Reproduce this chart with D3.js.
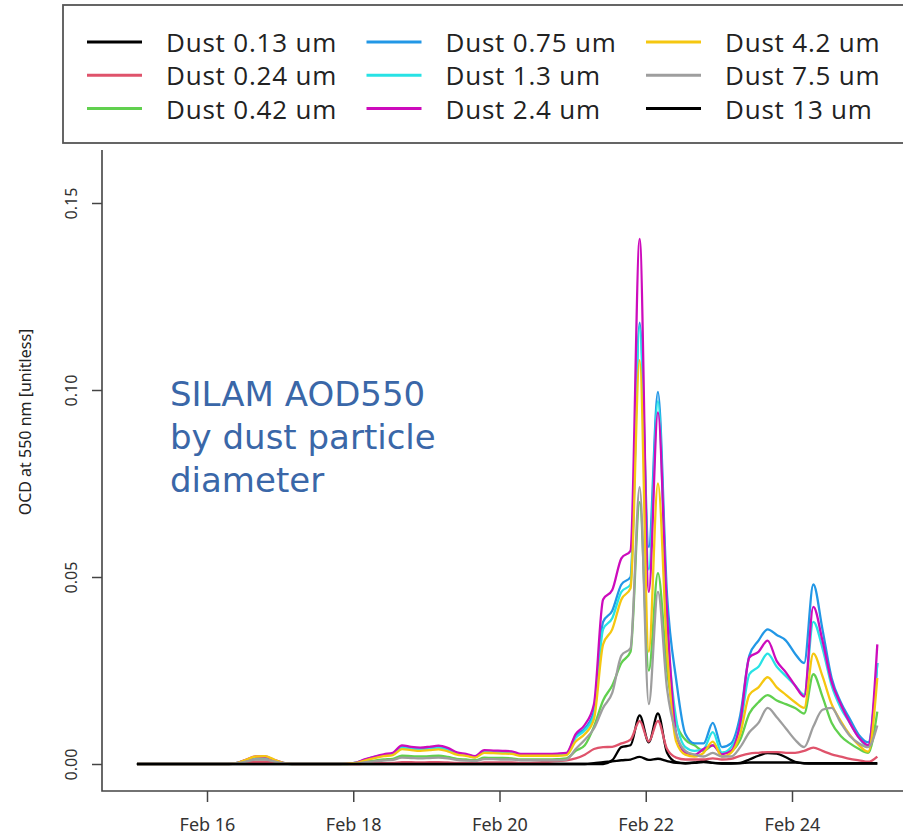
<!DOCTYPE html>
<html>
<head>
<meta charset="utf-8">
<script src="https://cdn.jsdelivr.net/npm/d3@7"></script>
<style>
  body { margin: 0; background: #fff; }
  svg { display: block; }
</style>
</head>
<body>
<div id="viz"></div>
<script>
// model output every 3 hours, first step Feb 15 01:00
const startTime = new Date(Date.UTC(2021, 1, 15, 1));
const stepHours = 3;

const dust013 = [0,0,0,0,0,0,0,0,0,0, 0,0,0,0,0,0,0,0,0,0, 0,0,0,0,0,0,0,0,0,0,
  0,0,0,0,0,0,0,0,0,0, 0,0,0,0,0,0,0,0,0,0,
  0,0,0.001,0.0045,0.005,0.013,0.0058,0.0135,0.003,0.0005,
  0.0002,0.0004,0.0008,0.0003,0.0001,0.0001,0.0003,0.0012,0.0022,0.0029,
  0.0028,0.0018,0.0006,0.0002,0.0001,0.0001,0.0001,0.0001,0.0001,0.0001,
  0.0001,0.0001];
const dust024 = [0,0,0,0,0,0,0,0,0,0,
  0,0.0001,0.0004,0.0006,0.0006,0.0004,0.0001,0,0,0,
  0,0,0,0,0,0.0001,0.0002,0.0002,0.0003,0.0005,
  0.0005,0.0004,0.0005,0.0005,0.0004,0.0003,0.0003,0.0002,0.0004,0.0004,
  0.0004,0.0004,0.0003,0.0003,0.0004,0.0006,0.0008,0.001,0.0015,0.0025,
  0.004,0.0045,0.0046,0.0055,0.0065,0.0115,0.006,0.0115,0.004,0.0017,
  0.0012,0.0012,0.0012,0.0015,0.0012,0.0014,0.0022,0.0028,0.003,0.0032,
  0.0032,0.003,0.003,0.0035,0.0044,0.0035,0.0026,0.002,0.0014,0.001,
  0.0006,0.002];
const dust042 = [0,0,0,0,0,0,0,0,0,0,
  0,0.0002,0.0008,0.0013,0.0013,0.0008,0.0002,0,0,0,
  0,0,0,0,0.0002,0.0006,0.0009,0.0012,0.0014,0.0022,
  0.0021,0.002,0.0021,0.0022,0.0019,0.0014,0.0012,0.001,0.0017,0.0016,
  0.0016,0.0015,0.0012,0.0012,0.0012,0.0012,0.0013,0.0015,0.0035,0.005,
  0.01,0.017,0.021,0.027,0.03,0.07,0.025,0.051,0.025,0.011,
  0.0065,0.005,0.0035,0.005,0.003,0.0035,0.0065,0.0135,0.0165,0.0184,
  0.017,0.016,0.015,0.0135,0.024,0.018,0.011,0.0075,0.0055,0.004,
  0.003,0.014];
const dust075 = [0,0,0,0,0,0,0,0,0,0,
  0,0.0003,0.0011,0.0018,0.0019,0.001,0.0003,0,0,0,
  0,0,0,0.0001,0.0004,0.0012,0.0019,0.0024,0.0028,0.0047,
  0.0043,0.0041,0.0043,0.0046,0.004,0.0029,0.0025,0.002,0.0034,0.0034,
  0.0033,0.0032,0.0025,0.0025,0.0025,0.0025,0.0026,0.0028,0.0075,0.0095,
  0.014,0.038,0.041,0.048,0.05,0.118,0.058,0.0995,0.045,0.0225,
  0.008,0.0055,0.0055,0.011,0.0045,0.0055,0.013,0.029,0.033,0.036,
  0.0345,0.033,0.0295,0.027,0.048,0.036,0.023,0.0165,0.012,0.0077,
  0.0058,0.027];
const dust13 = [0,0,0,0,0,0,0,0,0,0,
  0,0.0003,0.001,0.0017,0.0018,0.001,0.0002,0,0,0,
  0,0,0,0.0001,0.0003,0.0011,0.0018,0.0023,0.0026,0.0044,
  0.004,0.0039,0.004,0.0043,0.0038,0.0027,0.0024,0.0018,0.0033,0.0032,
  0.0031,0.003,0.0024,0.0024,0.0024,0.0024,0.0025,0.0026,0.007,0.009,
  0.013,0.036,0.039,0.046,0.048,0.117,0.052,0.097,0.038,0.012,
  0.0045,0.0035,0.004,0.0085,0.003,0.0045,0.01,0.024,0.026,0.0295,
  0.026,0.0235,0.021,0.0185,0.038,0.031,0.021,0.015,0.011,0.007,
  0.0047,0.027];
const dust24 = [0,0,0,0,0,0,0,0,0,0,
  0,0.0003,0.0012,0.002,0.002,0.0011,0.0003,0,0,0,
  0,0,0,0.0001,0.0004,0.0013,0.002,0.0026,0.003,0.005,
  0.0046,0.0044,0.0046,0.0049,0.0043,0.0031,0.0027,0.0021,0.0037,0.0036,
  0.0035,0.0034,0.0027,0.0027,0.0027,0.0027,0.0028,0.003,0.008,0.0105,
  0.016,0.044,0.0465,0.055,0.057,0.1404,0.046,0.094,0.04,0.008,
  0.003,0.0024,0.004,0.005,0.0026,0.0035,0.011,0.0285,0.03,0.033,
  0.0275,0.0245,0.021,0.018,0.042,0.033,0.022,0.016,0.011,0.007,
  0.005,0.032];
const dust42 = [0,0,0,0,0,0,0,0,0,0,
  0,0.0003,0.0012,0.002,0.0021,0.0012,0.0003,0,0,0,
  0,0,0,0.0001,0.0003,0.001,0.0016,0.0021,0.0024,0.004,
  0.0037,0.0035,0.0037,0.0039,0.0034,0.0025,0.0022,0.0017,0.003,0.0029,
  0.0028,0.0027,0.0022,0.0022,0.0022,0.0022,0.0022,0.0024,0.006,0.008,
  0.012,0.032,0.036,0.044,0.047,0.108,0.03,0.075,0.03,0.006,
  0.0025,0.002,0.003,0.006,0.002,0.003,0.008,0.0185,0.0205,0.0232,
  0.0205,0.0185,0.0165,0.015,0.0295,0.0235,0.016,0.0115,0.0078,0.005,
  0.0033,0.023];
const dust75 = [0,0,0,0,0,0,0,0,0,0,
  0,0.0002,0.0007,0.0012,0.0012,0.0007,0.0002,0,0,0,
  0,0,0,0,0.0001,0.0005,0.0007,0.0009,0.0011,0.0017,
  0.0016,0.0015,0.0016,0.0017,0.0015,0.0011,0.0009,0.0008,0.0013,0.0013,
  0.0012,0.0012,0.001,0.001,0.001,0.001,0.001,0.0012,0.004,0.0065,
  0.0095,0.015,0.019,0.029,0.031,0.074,0.016,0.046,0.02,0.008,
  0.0035,0.0025,0.002,0.003,0.002,0.002,0.0045,0.0085,0.011,0.015,
  0.0125,0.0095,0.0065,0.0045,0.01,0.0145,0.015,0.011,0.0075,0.0055,
  0.0045,0.0103];
const dust130 = [0,0,0,0,0,0,0,0,0,0, 0,0,0,0,0,0,0,0,0,0, 0,0,0,0,0,0,0,0,0,0,
  0,0,0,0,0,0,0,0,0,0, 0,0,0,0,0,0,0,0,0,0,
  0.0002,0.0005,0.0007,0.001,0.0012,0.0019,0.0011,0.0014,0.0008,0.0003,
  0.0002,0.0003,0.0005,0.0003,0.0002,0.0002,0.0002,0.0004,0.0004,0.0004,
  0.0004,0.0004,0.0004,0.0002,0.0002,0.0002,0.0002,0.0002,0.0002,0.0002,
  0.0002,0.0002];

const sizeLabels = ['Dust 0.13 um', 'Dust 0.24 um', 'Dust 0.42 um', 'Dust 0.75 um', 'Dust 1.3 um',
                    'Dust 2.4 um', 'Dust 4.2 um', 'Dust 7.5 um', 'Dust 13 um'];
const sizeColors = ['#000000', '#df536b', '#61d04f', '#2297e6', '#28e2e5',
                    '#cd0bbc', '#f5c710', '#9e9e9e', '#000000'];
const seriesValues = [dust013, dust024, dust042, dust075, dust13, dust24, dust42, dust75, dust130];

const yTickValues = [0, 0.05, 0.10, 0.15];
const xTickDays = ['2021-02-16', '2021-02-18', '2021-02-20', '2021-02-22', '2021-02-24'];
const annotationLines = ['SILAM AOD550', 'by dust particle', 'diameter'];

const canvasWidth = 903;
const canvasHeight = 835;
const frame = { left: 102, right: 903, top: 150, bottom: 791 };

const times = d3.range(dust24.length).map((i) => d3.utcHour.offset(startTime, i * stepHours));
const xTickDates = xTickDays.map((s) => new Date(s + 'T00:00:00Z'));

const xScale = d3.scaleUtc()
                 .domain([xTickDates[0], xTickDates[xTickDates.length - 1]])
                 .range([207, 792]);

const yScale = d3.scaleLinear()
                 .domain([0, 0.15])
                 .range([764, 203]);

const chart = d3.select('#viz')
                .append('svg')
                .attr('width', canvasWidth)
                .attr('height', canvasHeight)
                .style('font-family', '"Noto Sans", "Open Sans", sans-serif');

// lines, drawn in legend order so the last one sits on top
const line = d3.line()
               .x((d, i) => xScale(times[i]))
               .y((d) => yScale(d))
               .curve(d3.curveMonotoneX);

chart.append('g')
     .selectAll('path')
     .data(seriesValues)
     .enter().append('path')
       .attr('d', (d) => line(d))
       .attr('fill', 'none')
       .attr('stroke', (d, i) => sizeColors[i])
       .attr('stroke-width', 2.3)
       .attr('stroke-linejoin', 'round');

// L-shaped frame
chart.append('path')
     .attr('d', `M${frame.left},${frame.top}V${frame.bottom}H${frame.right}`)
     .attr('fill', 'none')
     .attr('stroke', '#444')
     .attr('stroke-width', 1.6);

const yAxis = chart.append('g')
                   .attr('transform', `translate(${frame.left}, 0)`)
                   .call(d3.axisLeft(yScale)
                           .tickValues(yTickValues)
                           .tickFormat(d3.format('.2f'))
                           .tickSize(10));
yAxis.select('.domain').remove();
yAxis.selectAll('line').attr('stroke', '#444').attr('stroke-width', 1.5);
yAxis.selectAll('text')
     .attr('x', null).attr('dy', null)
     .attr('transform', 'translate(-25,0) rotate(-90)')
     .attr('text-anchor', 'middle')
     .attr('fill', '#333')
     .style('font-size', '16px')
     .style('font-family', '"Noto Sans", sans-serif');

const xAxis = chart.append('g')
                   .attr('transform', `translate(0, ${frame.bottom})`)
                   .call(d3.axisBottom(xScale)
                           .tickValues(xTickDates)
                           .tickFormat(d3.utcFormat('%b %d'))
                           .tickSize(11));
xAxis.select('.domain').remove();
xAxis.selectAll('line').attr('stroke', '#444').attr('stroke-width', 1.5);
xAxis.selectAll('text')
     .attr('y', 40).attr('dy', null)
     .attr('fill', '#333')
     .style('font-size', '18px')
     .style('font-family', '"Noto Sans", sans-serif');

chart.append('text')
     .attr('transform', 'translate(31, 422) rotate(-90)')
     .attr('text-anchor', 'middle')
     .attr('fill', '#222')
     .style('font-size', '16px')
     .text('OCD at 550 nm [unitless]');

// annotation, three lines of blue text
chart.append('g')
     .selectAll('text')
     .data(annotationLines)
     .enter().append('text')
       .attr('x', 170)
       .attr('y', (d, i) => 406 + i * 43)
       .attr('fill', '#3a67a8')
       .style('font-size', '34px')
       .style('font-family', '"DejaVu Sans", sans-serif')
       .text((d) => d);

// legend
const legend = chart.append('g');
legend.append('rect')
      .attr('x', 63).attr('y', 5)
      .attr('width', 860).attr('height', 138)
      .attr('fill', '#fff')
      .attr('stroke', '#555')
      .attr('stroke-width', 1.8);

const entries = legend.selectAll('g.entry')
                      .data(sizeLabels)
                      .enter().append('g')
                        .classed('entry', true)
                        .attr('transform', (d, i) => `translate(${87 + Math.floor(i / 3) * 279.5}, ${52 + (i % 3) * 33.3})`);
entries.append('line')
       .attr('x1', 0).attr('x2', 55)
       .attr('y1', -10).attr('y2', -10)
       .attr('stroke', (d, i) => sizeColors[i])
       .attr('stroke-width', 3);
entries.append('text')
       .attr('x', 79)
       .attr('fill', '#222')
       .style('font-size', '26px')
       .style('letter-spacing', '0.8px')
       .style('font-family', '"Open Sans", "Noto Sans", sans-serif')
       .text((d) => d);
</script>
</body>
</html>
